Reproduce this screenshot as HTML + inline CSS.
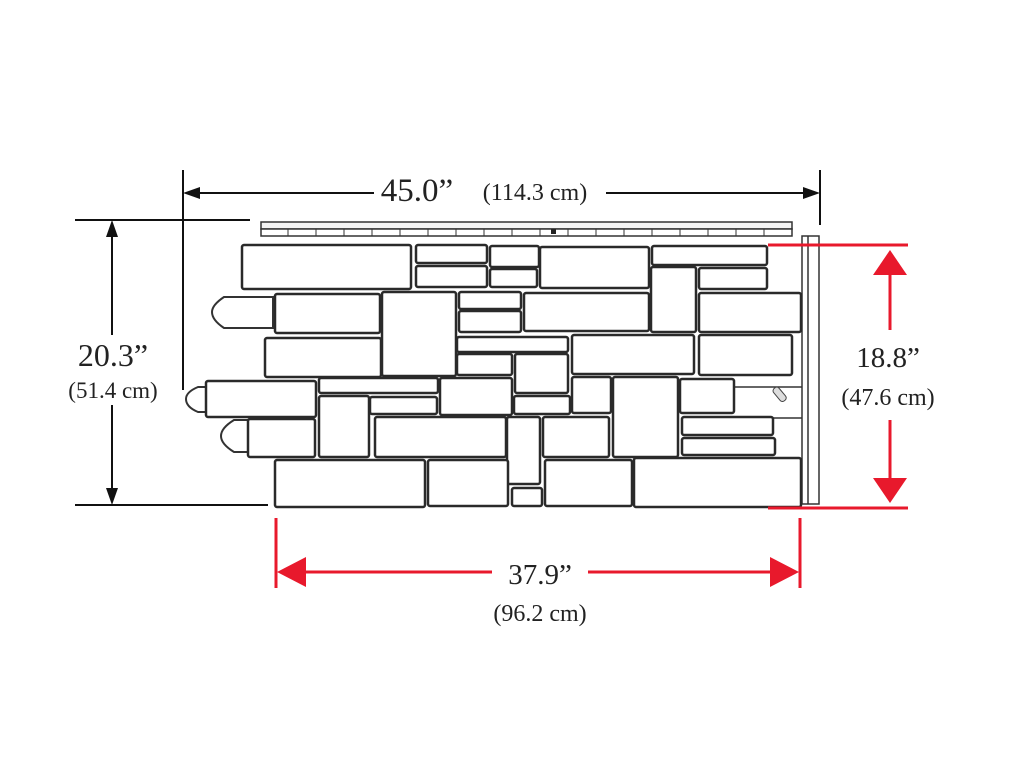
<!DOCTYPE html>
<html><head><meta charset="utf-8"><style>
html,body{margin:0;padding:0;background:#fff;width:1024px;height:768px;overflow:hidden}
svg{display:block}
text{font-family:"Liberation Serif",serif;fill:#222}
</style></head><body>
<svg width="1024" height="768" viewBox="0 0 1024 768" xmlns="http://www.w3.org/2000/svg">
<g stroke="#111" stroke-width="2" fill="none">
<line x1="183" y1="170" x2="183" y2="390"/>
<line x1="820" y1="170" x2="820" y2="225"/>
<line x1="190" y1="193" x2="374" y2="193"/>
<line x1="606" y1="193" x2="812" y2="193"/>
<line x1="75" y1="220" x2="250" y2="220"/>
<line x1="75" y1="505" x2="268" y2="505"/>
<line x1="112" y1="228" x2="112" y2="335"/>
<line x1="112" y1="405" x2="112" y2="497"/>
</g>
<g fill="#111">
<polygon points="183,193 200,187 200,199"/>
<polygon points="820,193 803,187 803,199"/>
<polygon points="112,220 106,237 118,237"/>
<polygon points="112,505 106,488 118,488"/>
</g>
<text x="417" y="201" font-size="33" text-anchor="middle">45.0”</text>
<text x="535" y="200" font-size="24" text-anchor="middle">(114.3 cm)</text>
<text x="113" y="366" font-size="32" text-anchor="middle">20.3”</text>
<text x="113" y="398" font-size="23" text-anchor="middle">(51.4 cm)</text>

<g stroke="#333" stroke-width="1.5" fill="#f4f4f4">
<rect x="261" y="222" width="531" height="7"/>
<rect x="261" y="229" width="531" height="7" fill="#fff"/>
</g>
<g stroke="#333" stroke-width="1">
<path d="M288 229v7M316 229v7M344 229v7M372 229v7M400 229v7M428 229v7M456 229v7M484 229v7M512 229v7M540 229v7M568 229v7M596 229v7M624 229v7M652 229v7M680 229v7M708 229v7M736 229v7M764 229v7"/>
</g>
<rect x="551" y="229" width="5" height="5" fill="#222"/>
<g stroke="#333" stroke-width="1.5" fill="none">
<rect x="802" y="236" width="17" height="268"/>
<line x1="808" y1="236" x2="808" y2="504"/>
<line x1="734" y1="387" x2="802" y2="387"/>
<line x1="734" y1="418" x2="802" y2="418"/>
</g>
<rect x="776" y="386" width="7" height="16" rx="3" transform="rotate(-40 780 394)" fill="#ddd" stroke="#444"/>

<g stroke="#333" stroke-width="2" fill="#fff">
<path d="M273 297 H224 Q212 305 212 312 Q212 320 224 328 H273 Z"/>
<path d="M208 387 H198 Q186 392 186 399 Q186 407 198 412 H208 Z"/>
<path d="M250 420 H234 Q221 428 221 436 Q221 444 234 452 H250 Z"/>
</g>
<g stroke="#2a2a2a" stroke-width="2.5" fill="#fff">
<rect x="242" y="245" width="169" height="44" rx="2"/>
<rect x="416" y="245" width="71" height="18" rx="2"/>
<rect x="416" y="266" width="71" height="21" rx="2"/>
<rect x="490" y="246" width="49" height="21" rx="2"/>
<rect x="490" y="269" width="47" height="18" rx="2"/>
<rect x="540" y="247" width="109" height="41" rx="2"/>
<rect x="652" y="246" width="115" height="19" rx="2"/>
<rect x="651" y="267" width="45" height="65" rx="2"/>
<rect x="699" y="268" width="68" height="21" rx="2"/>
<rect x="275" y="294" width="105" height="39" rx="2"/>
<rect x="382" y="292" width="74" height="84" rx="2"/>
<rect x="459" y="292" width="62" height="17" rx="2"/>
<rect x="459" y="311" width="62" height="21" rx="2"/>
<rect x="524" y="293" width="125" height="38" rx="2"/>
<rect x="699" y="293" width="102" height="39" rx="2"/>
<rect x="265" y="338" width="116" height="39" rx="2"/>
<rect x="457" y="337" width="111" height="15" rx="2"/>
<rect x="457" y="354" width="55" height="21" rx="2"/>
<rect x="515" y="354" width="53" height="39" rx="2"/>
<rect x="572" y="335" width="122" height="39" rx="2"/>
<rect x="699" y="335" width="93" height="40" rx="2"/>
<rect x="206" y="381" width="110" height="36" rx="2"/>
<rect x="319" y="378" width="119" height="15" rx="2"/>
<rect x="319" y="396" width="50" height="61" rx="2"/>
<rect x="370" y="397" width="67" height="17" rx="2"/>
<rect x="440" y="378" width="72" height="37" rx="2"/>
<rect x="514" y="396" width="56" height="18" rx="2"/>
<rect x="572" y="377" width="39" height="36" rx="2"/>
<rect x="613" y="377" width="65" height="80" rx="2"/>
<rect x="680" y="379" width="54" height="34" rx="2"/>
<rect x="248" y="419" width="67" height="38" rx="2"/>
<rect x="375" y="417" width="131" height="40" rx="2"/>
<rect x="507" y="417" width="33" height="67" rx="2"/>
<rect x="543" y="417" width="66" height="40" rx="2"/>
<rect x="682" y="417" width="91" height="18" rx="2"/>
<rect x="682" y="438" width="93" height="17" rx="2"/>
<rect x="275" y="460" width="150" height="47" rx="2"/>
<rect x="428" y="460" width="80" height="46" rx="2"/>
<rect x="512" y="488" width="30" height="18" rx="2"/>
<rect x="545" y="460" width="87" height="46" rx="2"/>
<rect x="634" y="458" width="167" height="49" rx="2"/>
</g>

<g stroke="#e8192c" stroke-width="3" fill="none">
<line x1="768" y1="245" x2="908" y2="245"/>
<line x1="768" y1="508" x2="908" y2="508"/>
<line x1="890" y1="270" x2="890" y2="330"/>
<line x1="890" y1="420" x2="890" y2="485"/>
<line x1="276" y1="518" x2="276" y2="588"/>
<line x1="800" y1="518" x2="800" y2="588"/>
<line x1="300" y1="572" x2="492" y2="572"/>
<line x1="588" y1="572" x2="776" y2="572"/>
</g>
<g fill="#e8192c">
<polygon points="890,250 873,275 907,275"/>
<polygon points="890,503 873,478 907,478"/>
<polygon points="277,572 306,557 306,587"/>
<polygon points="799,572 770,557 770,587"/>
</g>
<text x="888" y="367" font-size="29" text-anchor="middle">18.8”</text>
<text x="888" y="405" font-size="24" text-anchor="middle">(47.6 cm)</text>
<text x="540" y="584" font-size="29" text-anchor="middle">37.9”</text>
<text x="540" y="621" font-size="24" text-anchor="middle">(96.2 cm)</text>
</svg>
</body></html>
